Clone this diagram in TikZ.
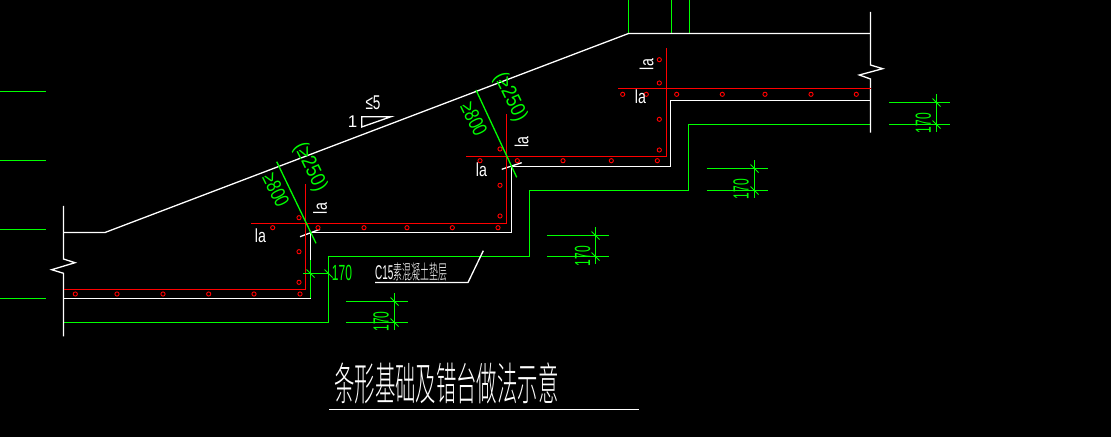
\documentclass[tikz,border=0pt]{standalone}
\usepackage{fontspec}
\setmainfont{Liberation Sans}
\newfontfamily\cjkfont{Noto Sans CJK SC Light}
\definecolor{cadgreen}{RGB}{0,255,0}
\definecolor{cadred}{RGB}{255,0,0}
\tikzset{
 wline/.style={draw=white,line width=1.3bp},
 gline/.style={draw=cadgreen,line width=1.3bp},
 rline/.style={draw=cadred,line width=1.3bp},
 rebar/.style={draw=cadred,line width=0.9pt,circle,minimum size=4.2pt,inner sep=0pt},
 wtext/.style={text=white,inner sep=0pt},
 gtext/.style={text=cadgreen,inner sep=0pt}
}
\newcommand{\narrow}[2]{\scalebox{#1}[1]{#2}}
\newcommand{\dimtick}[2]{\draw[gline,line width=0.8pt] (#1-4,#2-4) -- (#1+4,#2+4);}
\newcommand{\lalabel}{\narrow{0.75}{\fontsize{19}{19}\selectfont la}}
\begin{document}
\begin{tikzpicture}[x=1bp,y=-1bp]
\fill[black] (0,0) rectangle (1111,437);
\useasboundingbox (0,0) rectangle (1111,437);
% left stubs
\foreach \yy in {91.5,160.5,229.5,298.5} \draw[gline] (0,\yy) -- (46,\yy);
% green outline
\draw[gline] (63.5,322.5) -- (328.5,322.5) -- (328.5,256.5) -- (529.5,256.5) -- (529.5,190.5) -- (688.5,190.5) -- (688.5,124.5) -- (870.5,124.5);
% top verticals
\foreach \xx in {628.5,671.5,689.5} \draw[gline] (\xx,0) -- (\xx,33.5);
% white outline
\draw[wline] (63.5,206) -- (63.5,259) -- (75,262.7) -- (51.7,269.7) -- (63.5,273.3) -- (63.5,336.5);
\draw[wline] (63.5,232.5) -- (105,232.5) -- (628.5,33.5) -- (870.5,33.5);
\draw[wline] (870.5,12) -- (870.5,65) -- (882.7,68.7) -- (859.3,75) -- (870.5,79) -- (870.5,132.7);
\draw[wline] (63.5,298.5) -- (310.5,298.5) -- (310.5,232.5) -- (511.5,232.5) -- (511.5,166.5) -- (670.5,166.5) -- (670.5,100.5) -- (870.5,100.5);
\draw[gline] (310.5,260) -- (310.5,298);
\draw[wline] (300,236.7) -- (320,229.3);
\draw[wline] (501.7,169.3) -- (521.7,162.7);
% red bars
\draw[rline] (63.5,289.5) -- (305.5,289.5) -- (305.5,184);
\draw[rline] (251,223.5) -- (506.5,223.5) -- (506.5,114);
\draw[rline] (466,156.5) -- (666.5,156.5) -- (666.5,48);
\draw[rline] (618,88.5) -- (870.5,88.5);
% rebars
\foreach \xx/\yy in {75.3/294,117/294,163/294,208.7/294,254/294,300/294,
 299/282.3,299/251.7,299/217.7,
 272.7/227.7,318/227.7,364/227.7,407/227.7,452.3/227.7,498/227.7,
 500/216,500/185.3,500/149,
 480/160.7,517.3/160.7,563/160.7,611.3/160.7,657.3/160.7,
 659.3/150,659.3/119.3,659.3/83,659.3/59.7,
 622.7/94.3,646.3/94.3,676.7/94.3,722.3/94.3,765/94.3,811/94.3,856.3/94.3}
 \node[rebar] at (\xx,\yy) {};
% la labels
\node[wtext] (la1) at (260.5,236) {\lalabel};
\node[wtext,rotate=90] (la2) at (320,208.5) {\lalabel};
\node[wtext] (la3) at (481.5,169.5) {\lalabel};
\node[wtext,rotate=90] (la4) at (521.5,142) {\lalabel};
\node[wtext] (la5) at (640.5,96.5) {\lalabel};
\node[wtext,rotate=90] (la6) at (646.5,64.5) {\lalabel};
% slope symbol
\draw[wline] (361.7,116.7) -- (391,116.7) -- (361.7,127) -- cycle;
\node[wtext] (one) at (352.7,122) {\fontsize{17}{17}\selectfont 1};
\node[wtext] (slope) at (373,102.5) {\fontsize{20}{20}\selectfont \narrow{0.68}{≤5}};
% thickness lines
\draw[gline] (276.7,161.7) -- (316,243.3);
\draw[gline] (476,90) -- (516.7,177.3);
\node[gtext,rotate=-64] (t1) at (276,190) {\fontsize{21}{21}\selectfont \narrow{0.75}{≥800}};
\node[gtext,rotate=-64] (w1) at (310,167) {\fontsize{21}{21}\selectfont \narrow{0.85}{(≥250)}};
\node[gtext,rotate=-64] (t2) at (474,119) {\fontsize{21}{21}\selectfont \narrow{0.75}{≥800}};
\node[gtext,rotate=-64] (w2) at (510,97) {\fontsize{21}{21}\selectfont \narrow{0.85}{(≥250)}};
% 170 horizontal dim
\draw[gline] (303,273.5) -- (328.5,273.5);
\dimtick{310.5}{273.5}\dimtick{328.5}{273.5}
\node[gtext] (d0) at (342,273) {\narrow{0.55}{\fontsize{22}{22}\selectfont 170}};
% 170 vertical dims
\foreach \xa/\xb/\xv/\ya/\yb/\xt/\yt in {346/408/394.5/301.5/322.5/381/321.5,
 547.3/609/595.5/235.5/256.5/582.5/256,
 706.7/768/754.5/168.5/190.5/741/189,
 889/950/936.5/102.5/124.5/923.3/123}{
 \draw[gline] (\xa,\ya) -- (\xb,\ya);
 \draw[gline] (\xa,\yb) -- (\xb,\yb);
 \draw[gline] (\xv,\ya-8) -- (\xv,\yb+8);
 \dimtick{\xv}{\ya}\dimtick{\xv}{\yb}
 \node[gtext,rotate=90] at (\xt,\yt) {\narrow{0.55}{\fontsize{22}{22}\selectfont 170}};
}
% leader
\draw[wline] (483.3,250.7) -- (468,282.5) -- (375,282.5);
\node[wtext,anchor=west] (c15) at (375,272) {\fontsize{20}{20}\selectfont \narrow{0.5}{C15}\narrow{0.45}{\cjkfont 素混凝土垫层}};
% title
\node[wtext,anchor=west] (title) at (334,383) {\fontsize{45}{45}\selectfont \narrow{0.455}{\cjkfont 条形基础及错台做法示意}};
\draw[wline] (329,409.5) -- (639,409.5);
\end{tikzpicture}
\end{document}
